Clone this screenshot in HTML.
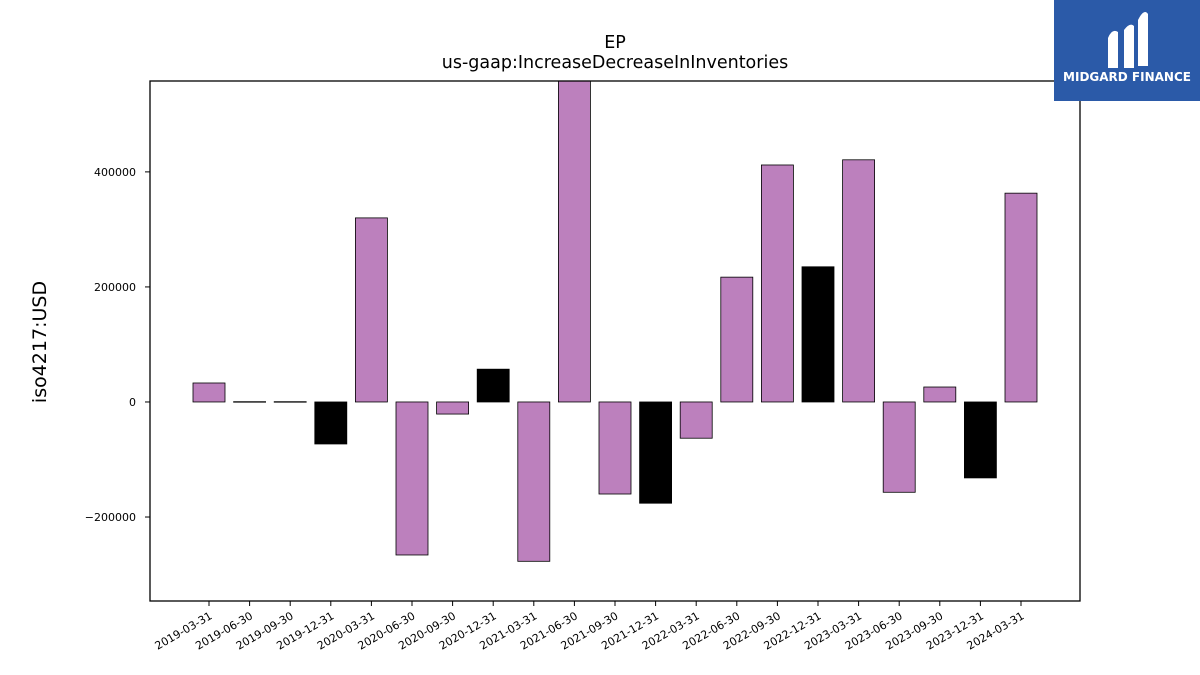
<!DOCTYPE html>
<html><head><meta charset="utf-8"><style>
body{margin:0;background:#fff;}
svg{display:block;font-family:"DejaVu Sans","Liberation Sans",sans-serif;}
</style></head><body>
<svg id="chart" width="1200" height="675">
<text x="615" y="48" font-size="17.5" text-anchor="middle">EP</text>
<text x="615" y="68" font-size="17.5" text-anchor="middle">us-gaap:IncreaseDecreaseInInventories</text>
<text transform="translate(46,342) rotate(-90)" font-size="19" text-anchor="middle">iso4217:USD</text>
<g id="bars"></g><g id="yticks"></g><g id="xticks"></g>
<rect x="150" y="81" width="930" height="520" fill="none" stroke="#000" stroke-width="1.3"/>
<g>
<rect x="1054" y="0" width="146" height="101" fill="#2b5aa8"/>
<path d="M1108 68 L1108 38 Q1112 28 1118 32 L1118 68 Z M1124 68 L1124 30 Q1130 22 1134 26 L1134 68 Z M1138 66 L1138 20 Q1144 8 1148 14 L1148 66 Z" fill="#fff"/>
<text x="1127" y="81" font-size="12" font-weight="bold" fill="#fff" text-anchor="middle">MIDGARD FINANCE</text>
</g>
</svg>
<script>
const categories=["2019-03-31","2019-06-30","2019-09-30","2019-12-31","2020-03-31","2020-06-30","2020-09-30","2020-12-31","2021-03-31","2021-06-30","2021-09-30","2021-12-31","2022-03-31","2022-06-30","2022-09-30","2022-12-31","2023-03-31","2023-06-30","2023-09-30","2023-12-31","2024-03-31"];
const values=[33000,500,500,-73000,320000,-266000,-21000,57000,-277000,600000,-160000,-176000,-63000,217000,412000,235000,421000,-157000,26000,-132000,363000];
const isBlack=[0,0,0,1,0,0,0,1,0,0,0,1,0,0,0,1,0,0,0,1,0];
const yTicks=[-200000,0,200000,400000];
const yTickLabels=["\u2212200000","0","200000","400000"];
const NS="http://www.w3.org/2000/svg";
const yMin=-346000,yMax=558000,plotTop=81,plotBot=601;
function y(v){return plotBot-(v-yMin)/(yMax-yMin)*(plotBot-plotTop);}
function x(i){return 209+i*(1021-209)/(categories.length-1);}
const bw=32;
const gb=document.getElementById('bars');
categories.forEach((c,i)=>{
 const r=document.createElementNS(NS,'rect');
 const v=Math.max(yMin,Math.min(yMax,values[i]));
 const y0=y(0),y1=y(v);
 r.setAttribute('x',x(i)-bw/2);r.setAttribute('width',bw);
 r.setAttribute('y',Math.min(y0,y1));r.setAttribute('height',Math.max(Math.abs(y1-y0),0.5));
 r.setAttribute('fill',isBlack[i]?'#000':'#bc80bd');r.setAttribute('stroke','#000');r.setAttribute('stroke-width','0.8');
 
 
 gb.appendChild(r);
});
const gy=document.getElementById('yticks');
yTicks.forEach((t,i)=>{
 const l=document.createElementNS(NS,'line');
 l.setAttribute('x1',145);l.setAttribute('x2',150);l.setAttribute('y1',y(t));l.setAttribute('y2',y(t));l.setAttribute('stroke','#000');
 
 
 gy.appendChild(l);
 const tx=document.createElementNS(NS,'text');
 tx.setAttribute('x',136);tx.setAttribute('y',y(t)+4);tx.setAttribute('font-size','11');tx.setAttribute('text-anchor','end');
 tx.textContent=yTickLabels[i];
 
 
 gy.appendChild(tx);
});
const gx=document.getElementById('xticks');
categories.forEach((c,i)=>{
 const l=document.createElementNS(NS,'line');
 l.setAttribute('x1',x(i));l.setAttribute('x2',x(i));l.setAttribute('y1',601);l.setAttribute('y2',606);l.setAttribute('stroke','#000');
 
 
 gx.appendChild(l);
 const tx=document.createElementNS(NS,'text');
 tx.setAttribute('transform','translate('+(x(i)+4)+',618) rotate(-30)');
 tx.setAttribute('font-size','11');tx.setAttribute('text-anchor','end');
 tx.textContent=c;
 
 
 gx.appendChild(tx);
});
</script>
</body></html>
